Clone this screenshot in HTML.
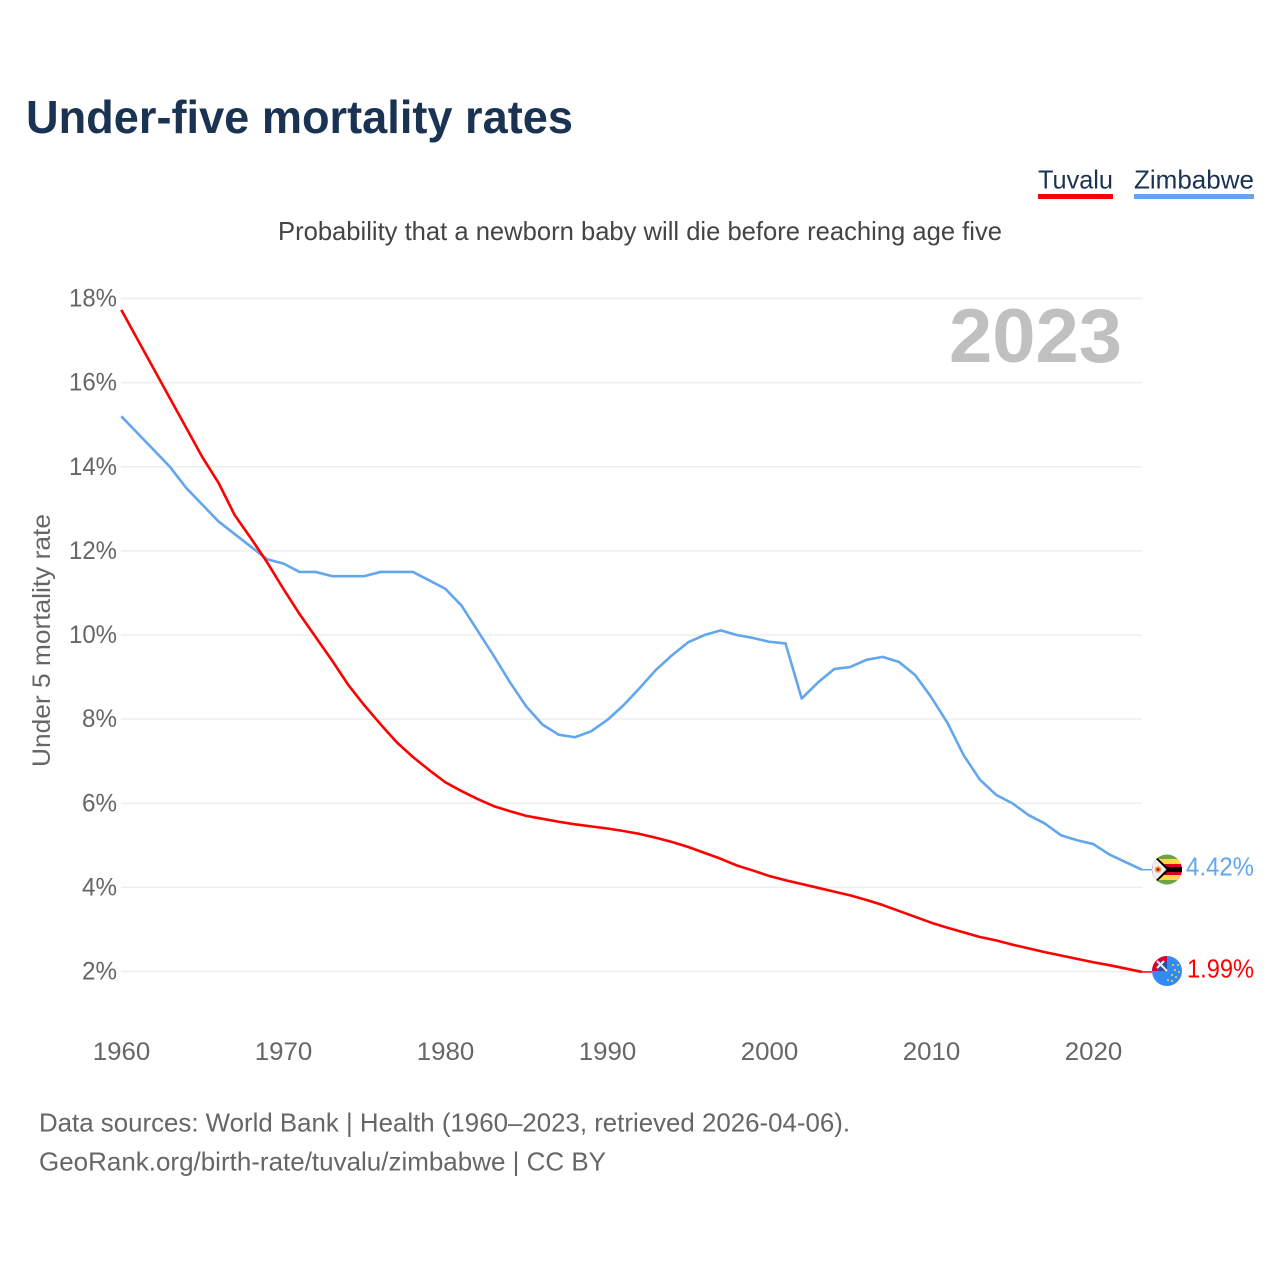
<!DOCTYPE html>
<html lang="en">
<head>
<meta charset="utf-8">
<title>Under-five mortality rates</title>
<style>
html,body{margin:0;padding:0;background:#fff;}
svg{display:block;}
text{font-family:"Liberation Sans",sans-serif;}
</style>
</head>
<body>
<svg id="chart" xmlns="http://www.w3.org/2000/svg" width="1280" height="1280" viewBox="0 0 1280 1280">
  <rect x="0" y="0" width="1280" height="1280" fill="#fff"/>
  <text x="26" y="133" font-size="46" font-weight="700" fill="#1a3353" textLength="547" lengthAdjust="spacingAndGlyphs">Under-five mortality rates</text>
  <text x="278" y="240" font-size="26" fill="#444" textLength="724" lengthAdjust="spacingAndGlyphs">Probability that a newborn baby will die before reaching age five</text>

  <g>
    <text x="1038" y="188.5" font-size="26" fill="#1a3353" textLength="75" lengthAdjust="spacingAndGlyphs">Tuvalu</text>
    <rect x="1038" y="194" width="75" height="5" fill="#ff0000"/>
  </g>
  <g>
    <text x="1134" y="188.5" font-size="26" fill="#1a3353" textLength="120" lengthAdjust="spacingAndGlyphs">Zimbabwe</text>
    <rect x="1134" y="194" width="120" height="5" fill="#62a6ee"/>
  </g>

  <g id="grid"></g>
  <g id="yticks"></g>
  <g id="xticks"></g>

  <text x="949" y="362" font-size="76" font-weight="700" fill="#c0c0c0" textLength="173" lengthAdjust="spacingAndGlyphs">2023</text>
  <text transform="translate(50,767) rotate(-90)" font-size="25" fill="#666" textLength="253" lengthAdjust="spacingAndGlyphs">Under 5 mortality rate</text>

  <g id="series"></g>

  <defs>
    <clipPath id="clipZw"><circle cx="1167" cy="869.5" r="15"/></clipPath>
    <clipPath id="clipTv"><circle cx="1167" cy="971" r="15"/></clipPath>
  </defs>

  <g id="flag-zw" clip-path="url(#clipZw)">
    <rect x="1152" y="854" width="30" height="31" fill="#6da544"/>
    <rect x="1152" y="859" width="30" height="21" fill="#ffda44"/>
    <rect x="1152" y="864" width="30" height="11" fill="#d80027"/>
    <rect x="1152" y="867" width="30" height="5" fill="#000"/>
    <polygon points="1152,853 1170,869.5 1152,886" fill="#000"/>
    <polygon points="1152,855 1166.5,869.5 1152,884" fill="#f0f0f0"/>
    <circle cx="1158" cy="869.5" r="3.2" fill="#f0a030"/>
    <circle cx="1158" cy="869.5" r="1.5" fill="#d80027"/>
  </g>

  <g id="flag-tv" clip-path="url(#clipTv)">
    <rect x="1152" y="956" width="30" height="30" fill="#338af3"/>
    <rect x="1152" y="956" width="15" height="15" fill="#d80027"/>
    <rect x="1157" y="961" width="10" height="10" fill="#2a4f9f"/>
    <path d="M1157,961 L1167,971 M1164,961 L1157,968" stroke="#f0f0f0" stroke-width="2"/>
    <g fill="#ffda44">
      <circle cx="1178" cy="965" r="1"/><circle cx="1175" cy="970" r="1"/><circle cx="1179" cy="972" r="1"/>
      <circle cx="1172" cy="975" r="1"/><circle cx="1176" cy="977" r="1"/><circle cx="1168" cy="980" r="1"/>
      <circle cx="1172" cy="981" r="1"/><circle cx="1173" cy="965" r="1"/>
    </g>
  </g>

  <text id="valueZw" x="1186" y="875.5" font-size="26" fill="#62a6ee" textLength="68" lengthAdjust="spacingAndGlyphs"></text>
  <text id="valueTv" x="1187" y="977.5" font-size="26" fill="#ff0000" textLength="67" lengthAdjust="spacingAndGlyphs"></text>

  <text x="39" y="1131.5" font-size="26" fill="#666" textLength="811" lengthAdjust="spacingAndGlyphs">Data sources: World Bank | Health (1960–2023, retrieved 2026-04-06).</text>
  <text x="39" y="1170.5" font-size="26" fill="#666" textLength="567" lengthAdjust="spacingAndGlyphs">GeoRank.org/birth-rate/tuvalu/zimbabwe | CC BY</text>
</svg>

<script>
var startYear = 1960;
var yTickValues = [2, 4, 6, 8, 10, 12, 14, 16, 18];
var xTickYears = [1960, 1970, 1980, 1990, 2000, 2010, 2020];
var tuvaluValues = [17.73, 17.03, 16.33, 15.63, 14.93, 14.23, 13.62, 12.85, 12.3, 11.73,
  11.1, 10.5, 9.95, 9.4, 8.82, 8.33, 7.88, 7.45, 7.1, 6.79,
  6.5, 6.29, 6.1, 5.93, 5.81, 5.7, 5.63, 5.56, 5.5, 5.45,
  5.4, 5.34, 5.27, 5.18, 5.08, 4.96, 4.82, 4.68, 4.52, 4.4,
  4.27, 4.17, 4.08, 3.99, 3.9, 3.81, 3.7, 3.58, 3.44, 3.3,
  3.16, 3.04, 2.93, 2.82, 2.74, 2.64, 2.55, 2.46, 2.38, 2.3,
  2.22, 2.15, 2.07, 1.99];
var zimbabweValues = [15.2, 14.8, 14.4, 14.0, 13.5, 13.1, 12.7, 12.4, 12.1, 11.8,
  11.7, 11.5, 11.5, 11.4, 11.4, 11.4, 11.5, 11.5, 11.5, 11.3,
  11.1, 10.7, 10.1, 9.5, 8.87, 8.3, 7.87, 7.63, 7.57, 7.71,
  7.98, 8.33, 8.74, 9.17, 9.52, 9.83, 10.0, 10.11, 10.0, 9.93,
  9.84, 9.8, 8.49, 8.87, 9.19, 9.24, 9.41, 9.48, 9.36, 9.05,
  8.52, 7.91, 7.14, 6.56, 6.2, 6.0, 5.72, 5.52, 5.24, 5.12,
  5.03, 4.78, 4.6, 4.42];

var NS = 'http://www.w3.org/2000/svg';
function xScale(year) { return 121.3 + (year - 1960) * 16.2; }
function yScale(v) { return 971.5 - (v - 2) * 42.06; }

function make(tag, attrs, parent, txt) {
  var el = document.createElementNS(NS, tag);
  for (var k in attrs) { el.setAttribute(k, attrs[k]); }
  if (txt !== undefined) { el.textContent = txt; }
  parent.appendChild(el);
  return el;
}

var gridG = document.getElementById('grid');
var yG = document.getElementById('yticks');
var xG = document.getElementById('xticks');
var seriesG = document.getElementById('series');

yTickValues.forEach(function (v) {
  var line = make('line', {x1: 121, x2: 1142, y1: yScale(v), y2: yScale(v), stroke: '#eeeeee', 'stroke-width': 1.5}, gridG);
  
  
  var s = v + '%';
  var label = make('text', {x: 117 - (v < 10 ? 35 : 48), y: yScale(v) + 8, 'font-size': 25, fill: '#666', textLength: v < 10 ? 35 : 48, lengthAdjust: 'spacingAndGlyphs'}, yG, s);
  
  
});

xTickYears.forEach(function (yr) {
  var label = make('text', {x: xScale(yr) - 28.5, y: 1060, 'font-size': 25, fill: '#666', textLength: 57.5, lengthAdjust: 'spacingAndGlyphs'}, xG, String(yr));
  
  
});

function linePath(values) {
  return values.map(function (v, i) {
    return (i ? 'L' : 'M') + xScale(startYear + i).toFixed(2) + ',' + yScale(v).toFixed(2);
  }).join(' ');
}

var zwLine = make('path', {d: linePath(zimbabweValues), fill: 'none', stroke: '#62a6ee', 'stroke-width': 2.6, 'stroke-linejoin': 'round'}, seriesG);


var tvLine = make('path', {d: linePath(tuvaluValues), fill: 'none', stroke: '#ff0000', 'stroke-width': 2.6, 'stroke-linejoin': 'round'}, seriesG);



var lastZw = zimbabweValues[zimbabweValues.length - 1];
var lastTv = tuvaluValues[tuvaluValues.length - 1];
var lastX = xScale(startYear + zimbabweValues.length - 1);
var zwConn = make('line', {x1: lastX, x2: 1152, y1: yScale(lastZw), y2: yScale(lastZw), stroke: '#62a6ee', 'stroke-width': 1.5}, seriesG);


var tvConn = make('line', {x1: lastX, x2: 1152, y1: yScale(lastTv), y2: yScale(lastTv), stroke: '#ff0000', 'stroke-width': 1.5}, seriesG);



document.getElementById('valueZw').textContent = lastZw.toFixed(2) + '%';
document.getElementById('valueTv').textContent = lastTv.toFixed(2) + '%';
</script>
</body>
</html>
